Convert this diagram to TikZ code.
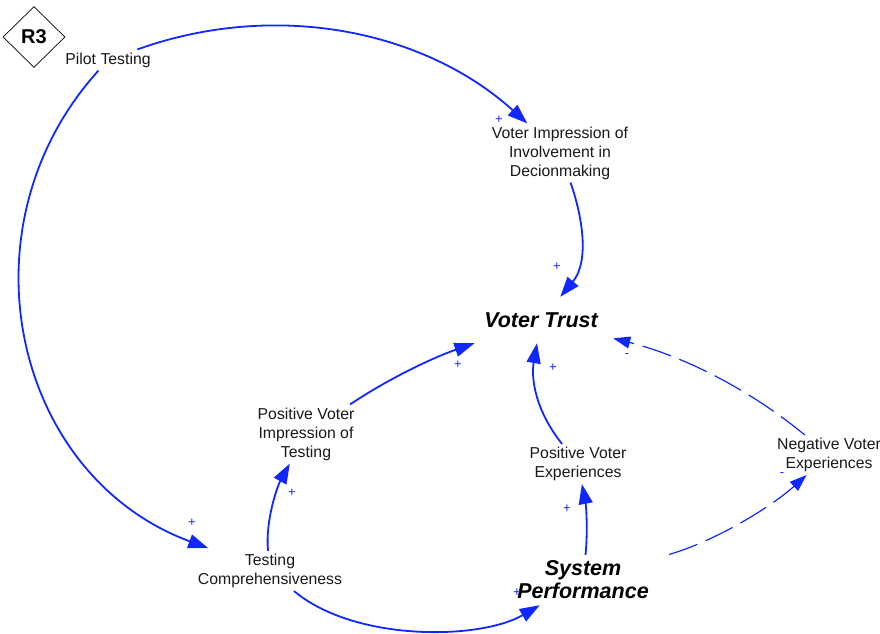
\documentclass[tikz,border=0pt]{standalone}
\usepackage{fontspec}
\setmainfont{Liberation Sans}
\usetikzlibrary{arrows.meta,shapes.geometric}
\definecolor{linkblue}{RGB}{16,40,255}
\begin{document}
\begin{tikzpicture}[x=1pt,y=-1pt,
  var/.style={align=center, font=\fontsize{15.8}{19}\selectfont, text=black!90, inner sep=3pt},
  keyvar/.style={align=center, font=\fontsize{21.5}{23}\selectfont\bfseries\itshape, text=black, inner sep=3pt},
  link/.style={draw=linkblue, line width=1.8pt, -{Triangle[length=20pt,width=14pt]}},
  dlink/.style={draw=linkblue, line width=1.2pt, dash pattern=on 30pt off 9pt, -{Triangle[length=17pt,width=12pt]}},
  pol/.style={text=linkblue, font=\fontsize{13}{13}\selectfont, inner sep=0pt},
]
\path[use as bounding box, fill=white] (0,0) rectangle (880,633);

% loop marker
\node[draw, diamond, minimum width=62pt, minimum height=61pt, inner sep=0pt, line width=0.7pt,
      font=\fontsize{20}{20}\selectfont\bfseries] (r3) at (34,37) {R3};

% variables
\node[var] (pilot) at (108,60) {Pilot Testing};
\node[var] (vimp) at (560,153) {Voter Impression of\\Involvement in\\Decionmaking};
\node[keyvar, minimum width=144pt, minimum height=46pt] (trust) at (541,320) {Voter Trust};
\node[var] (posimp) at (306,434) {Positive Voter\\Impression of\\Testing};
\node[var] (posexp) at (578,464) {Positive Voter\\Experiences};
\node[var] (negexp) at (829,455) {Negative Voter\\Experiences};
\node[var] (testc) at (270,571) {Testing\\Comprehensiveness};
\node[keyvar, minimum height=50pt] (sysp) at (583,580) {System\\Performance};

% causal links
\draw[link] (pilot) .. controls (275,0) and (424,30) .. (vimp);
\draw[link, shorten >=8pt] (pilot) .. controls (-43,227) and (13,476) .. (testc);
\draw[link] (vimp) .. controls (582,215) and (590,261) .. (trust);
\draw[link] (posimp) .. controls (388,379) and (432,358) .. (trust);
\draw[link] (posexp) .. controls (535,410) and (531,378) .. (trust);
\draw[dlink] (negexp) .. controls (749,389) and (683,356) .. (trust);
\draw[link] (testc) .. controls (265,520) and (278,485) .. (posimp);
\draw[link] (testc) .. controls (355,642) and (480,640) .. (sysp);
\draw[link] (sysp) .. controls (588,530) and (586,505) .. (posexp);
\draw[dlink, shorten <=18pt] (sysp) .. controls (718,540) and (772,506) .. (negexp);

% link polarities
\node[pol] (s1) at (499,120) {+};
\node[pol] (s2) at (192,523) {+};
\node[pol] (s3) at (557,267) {+};
\node[pol] (s4) at (458,365) {+};
\node[pol] (s5) at (553,368) {+};
\node[pol] (s6) at (627,356) {-};
\node[pol] (s7) at (292,493) {+};
\node[pol] (s8) at (517,593) {+};
\node[pol] (s9) at (567,509) {+};
\node[pol] (s10) at (782,475) {-};
\end{tikzpicture}
\end{document}
